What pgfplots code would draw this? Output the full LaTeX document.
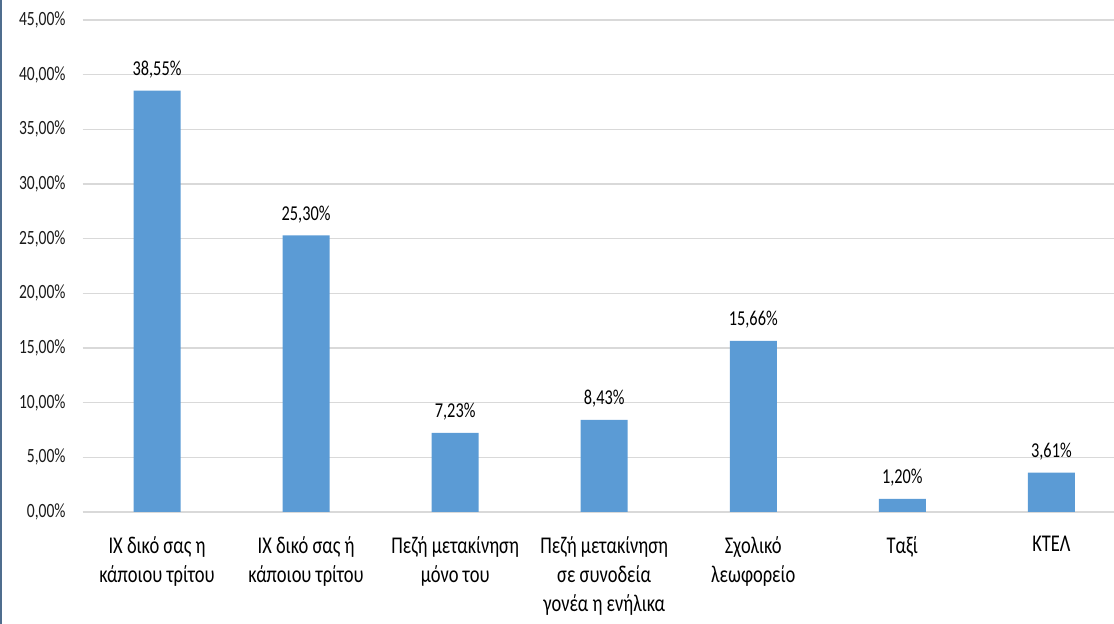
\documentclass[border=0pt]{standalone}
\usepackage{fontspec}
\setmainfont[FakeStretch=0.77]{Carlito}
\usepackage{pgfplots}
\pgfplotsset{compat=1.18}
\definecolor{barblue}{HTML}{5B9BD5}
\definecolor{gridgray}{HTML}{D9D9D9}
\definecolor{txt}{HTML}{1A1A1A}
\definecolor{stripc}{HTML}{4F6D8E}
\begin{document}
\begin{tikzpicture}
\begin{axis}[
  at={(41.25pt,56pt)}, anchor=south west,
  scale only axis, width=515.75pt, height=246pt,
  xmin=-0.5, xmax=6.42, ymin=0, ymax=45,
  ytick={0,5,...,45},
  ymajorgrids, grid style={gridgray, line width=0.7pt},
  axis line style={draw=none}, tick style={draw=none},
  xtick={0,...,6},
  xticklabels={{ΙΧ δικό σας η\\κάποιου τρίτου},{ΙΧ δικό σας ή\\κάποιου τρίτου},{Πεζή μετακίνηση\\μόνο του},{Πεζή μετακίνηση\\σε συνοδεία\\γονέα η ενήλικα},{Σχολικό\\λεωφορείο},{Ταξί},{ΚΤΕΛ}},
  xticklabel style={align=center, anchor=north, inner sep=0pt, yshift=-12pt, text=black, font=\fontsize{12}{14.5}\selectfont},
  yticklabel={\pgfmathprintnumber[fixed,fixed zerofill,precision=2,use comma,assume math mode=true]{\tick}\%},
  yticklabel style={anchor=east, inner sep=0pt, xshift=-8.25pt, text=txt, font=\fontsize{10.1}{11}\selectfont},
  nodes near coords={\pgfmathprintnumber[fixed,fixed zerofill,precision=2,use comma,assume math mode=true]{\pgfplotspointmeta}\%},
  nodes near coords style={anchor=south, inner sep=0pt, yshift=6pt, text=black, font=\fontsize{10.6}{12}\selectfont},
]
\addplot[ybar, bar width=23.5pt, fill=barblue, draw=none] coordinates {
  (0,38.55) (1,25.30) (2,7.23) (3,8.43) (4,15.66) (5,1.20) (6,3.61)
};
\end{axis}
\fill[stripc] (0,0) rectangle (1.2pt,312pt);
\pgfresetboundingbox
\useasboundingbox (0,0) rectangle (557pt,312pt);
\end{tikzpicture}
\end{document}
